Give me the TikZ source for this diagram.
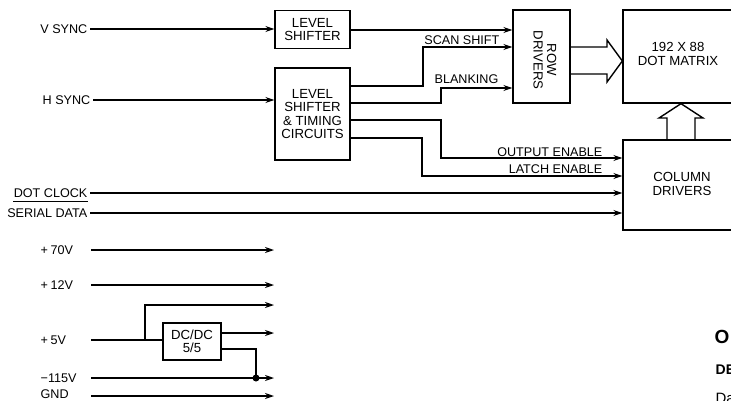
\documentclass[tikz,border=0pt]{standalone}
\usepackage{fontspec}
\setmainfont{Liberation Sans}
\usetikzlibrary{arrows.meta,calc}
\begin{document}
\begin{tikzpicture}[x=1pt,y=-1pt, line width=1.3pt,
  arr/.style={-{Stealth[length=9pt,width=6pt]}},
  blk/.style={draw, align=center, inner sep=0pt, font=\fontsize{13.2}{13.5}\selectfont},
  txt/.style={align=center, inner sep=0pt, font=\fontsize{13.2}{13.5}\selectfont},
  lbl/.style={inner sep=0pt, font=\fontsize{12.6}{13.5}\selectfont},
  siglbl/.style={lbl, anchor=east, inner xsep=2pt},
  pwr/.style={lbl, anchor=west},
  hollow/.style={line join=miter, line width=1.4pt}
]
\useasboundingbox (0,0) rectangle (731,400);

% blocks
\node[blk, minimum width=75pt, minimum height=38pt] (ls1) at (312.5,29.5) {LEVEL\\SHIFTER};
\node[blk, minimum width=75pt, minimum height=92pt] (ls2) at (312.5,114) {LEVEL\\SHIFTER\\\& TIMING\\CIRCUITS};
\node[blk, minimum width=57pt, minimum height=93pt] (rd) at (541.5,56.5) {};
\node[txt, rotate=-90] (rdt) at (545,60) {ROW\\DRIVERS};
\node[blk, minimum width=115pt, minimum height=93pt] (dm) at (680.5,56.5) {};
\node[txt] (dmt) at (678,54) {192 X 88\\DOT MATRIX};
\node[blk, minimum width=120pt, minimum height=90pt] (cd) at (683,185) {};
\node[txt] (cdt) at (682,184) {COLUMN\\DRIVERS};
\node[blk, minimum width=58pt, minimum height=37pt] (dc) at (192,341.5) {DC/DC\\5/5};

% input signals
\node[siglbl] (vs) at (90,29) {V SYNC};
\node[siglbl] (hs) at (93,100) {H SYNC};
\node[siglbl] (dck) at (90,193) {DOT CLOCK};
\node[siglbl] (sd) at (90,213) {SERIAL DATA};
\draw[line width=0.9pt] (13,201.5) -- (88,201.5);

\draw[arr] (vs.east) -- (vs.east -| ls1.west);
\draw[arr] (hs.east) -- (hs.east -| ls2.west);
\draw[arr] (dck.east) -- (dck.east -| cd.west);
\draw[arr] (sd.east) -- (sd.east -| cd.west);

% level shifter outputs
\draw[arr] (ls1.east |- 0,30) -- (rd.west |- 0,30);
\draw[arr] (ls2.east |- 0,86) -- (423,86) -- (423,47) -- (rd.west |- 0,47);
\draw[arr] (ls2.east |- 0,103) -- (441,103) -- (441,88) -- (rd.west |- 0,88);
\draw[arr] (ls2.east |- 0,120) -- (441,120) -- (441,158) -- (cd.west |- 0,158);
\draw[arr] (ls2.east |- 0,138) -- (422,138) -- (422,176) -- (cd.west |- 0,176);

\node[lbl, anchor=base east] (lss) at (500,44) {SCAN SHIFT};
\node[lbl, anchor=base east] (lbk) at (499,83) {BLANKING};
\node[lbl, anchor=base east] (loe) at (603,156) {OUTPUT ENABLE};
\node[lbl, anchor=base east] (lle) at (603,173) {LATCH ENABLE};

% hollow arrows
\draw[hollow] (rd.east |- 0,47) -- (607,47) -- (607,40) -- (dm.west |- 0,61) -- (607,82) -- (607,74) -- (rd.east |- 0,74);
\draw[hollow] (cd.north -| 667,0) -- (667,118) -- (659,118) -- (dm.south -| 681,0) -- (703,118) -- (695,118) -- (cd.north -| 695,0);

% power rails
\coordinate (rs) at (91,0);
\coordinate (re) at (274,0);
\node[pwr] (p70) at (40,250) {+\hspace{0.2em}70V};
\node[pwr] (p12) at (40,285) {+\hspace{0.2em}12V};
\node[pwr] (p5) at (40,340) {+\hspace{0.2em}5V};
\node[pwr] (m115) at (40,378) {−115V};
\node[pwr] (gnd) at (40,394) {GND};

\draw[arr] (p70 -| rs) -- (p70 -| re);
\draw[arr] (p12 -| rs) -- (p12 -| re);
\draw (p5 -| rs) -- (p5 -| dc.west);
\coordinate (br) at (145,340);
\draw[arr] (br) -- (145,305) -- (re |- 0,305);
\draw[arr] (dc.east |- 0,333) -- (re |- 0,333);
\coordinate (jn) at (256,378);
\draw (dc.east |- 0,349) -- (256,349) -- (jn);
\fill (jn) circle (3.5pt);
\draw[arr] (m115 -| rs) -- (m115 -| re);
\coordinate (gl) at (0,396);
\draw[arr] (gl -| rs) -- (gl -| re);

% fragments of adjacent text (cut by the page edge)
\node[anchor=base west, inner sep=0pt, font=\fontsize{19}{19}\selectfont\bfseries] (f1) at (714,343) {O};
\node[anchor=base west, inner sep=0pt, font=\fontsize{14}{14}\selectfont\bfseries] (f2) at (715,374) {DE};
\node[anchor=base west, inner sep=0pt, font=\fontsize{15}{15}\selectfont] (f3) at (715,403) {Da};
\end{tikzpicture}
\end{document}
